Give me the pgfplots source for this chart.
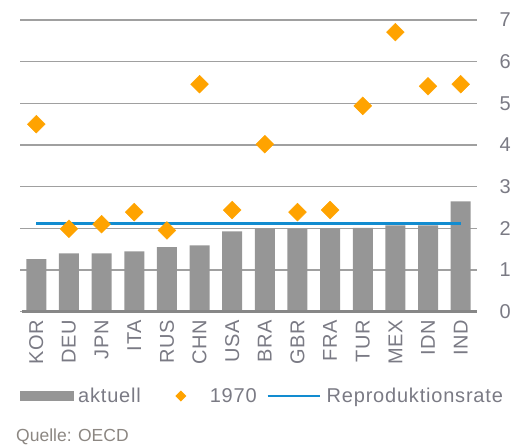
\documentclass[border=0pt]{standalone}
\usepackage{fontspec}
\setmainfont{Liberation Sans}[LetterSpace=4]
\newfontfamily\qfont{Liberation Sans}
\usepackage{pgfplots}
\pgfplotsset{compat=1.18}
\definecolor{barcol}{RGB}{150,150,150}
\definecolor{gridcol}{RGB}{160,160,160}
\definecolor{axiscol}{RGB}{135,135,135}
\definecolor{dcol}{RGB}{255,163,0}
\definecolor{lcol}{RGB}{18,140,208}
\definecolor{txtcol}{RGB}{122,122,132}
\definecolor{qcol}{RGB}{140,135,130}
\pgfplotstableread{
x aktuell y1970
0 1.26 4.50
1 1.40 1.99
2 1.40 2.10
3 1.45 2.39
4 1.55 1.95
5 1.59 5.46
6 1.93 2.44
7 2.00 4.02
8 1.99 2.39
9 2.00 2.44
10 2.01 4.94
11 2.07 6.71
12 2.07 5.41
13 2.65 5.46
}\datatable
\begin{document}
\begin{tikzpicture}
\path[use as bounding box] (0,0) rectangle (528pt,445pt);
\begin{axis}[
  at={(20pt,133.3pt)}, anchor=south west,
  scale only axis, width=457pt, height=291.7pt,
  xmin=-0.5, xmax=13.5, ymin=0, ymax=7,
  clip=false,
  xtick={0,...,13},
  xticklabels={KOR,DEU,JPN,ITA,RUS,CHN,USA,BRA,GBR,FRA,TUR,MEX,IDN,IND},
  ytick={0,...,7},
  yticklabel pos=right,
  /pgf/number format/assume math mode=true,
  axis line style={draw=none},
  major tick length=0pt,
  ymajorgrids,
  grid style={gridcol, line width=1.2pt},
  tick label style={text=txtcol, font=\fontsize{20}{24}\selectfont},
  yticklabel style={xshift=19pt},
  xticklabel style={yshift=-8pt, rotate=90, anchor=east, inner sep=0pt},
  legend columns=-1,
  legend style={draw=none, fill=none, inner sep=0pt, at={(0,-0.289)}, anchor=west,
    font=\fontsize{20}{24}\selectfont, text=txtcol,
    nodes={inner sep=0pt, text depth=0.15em}, column sep=0pt},
]
\addplot[ybar, bar width=20pt, fill=barcol, draw=none,
  legend image code/.code={\fill[barcol] (0pt,-5pt) rectangle (54pt,5pt); \path[draw=none,fill=none] (0,-6pt) rectangle (58pt,6pt);}]
  table[x=x, y=aktuell] {\datatable};
\addlegendentry{aktuell}
\addlegendimage{legend image code/.code={\fill[dcol, draw=none] (40pt,-5.5pt) -- (45.5pt,0pt) -- (40pt,5.5pt) -- (34.5pt,0pt) -- cycle; \path[draw=none,fill=none] (0,-6pt) rectangle (69pt,6pt);}}
\addlegendentry{1970}
\addplot[lcol, line width=2.5pt,
  legend image code/.code={\draw[lcol, line width=2.5pt] (11pt,0) -- (63pt,0); \path[draw=none,fill=none] (0,-6pt) rectangle (70pt,6pt);}]
  coordinates {(0,2.12) (13,2.12)};
\addlegendentry{Reproduktionsrate}
\addplot[axiscol, line width=3pt, forget plot] coordinates {(-0.44,0) (13.5,0)};
\addplot[dcol, only marks, mark=square*, mark size=6.3pt, mark options={rotate=45, fill=dcol, draw=none}, forget plot]
  table[x=x, y=y1970] {\datatable};
\end{axis}
\node[anchor=base west, inner sep=0pt, text=qcol, font=\qfont\fontsize{17.5}{20}\selectfont] at (16pt,3.5pt) {Quelle: OECD};
\end{tikzpicture}
\end{document}
